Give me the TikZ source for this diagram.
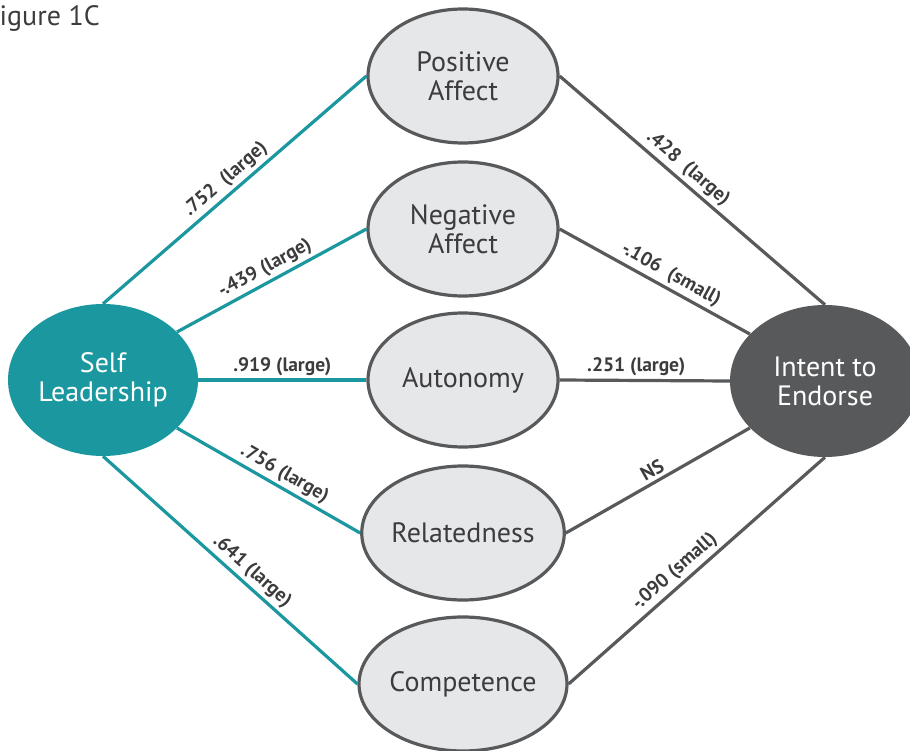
\documentclass[tikz,border=0pt]{standalone}
\usepackage{fontspec}
\setmainfont{PT Sans}
\usetikzlibrary{shapes}
\definecolor{tealfill}{HTML}{1B97A0}
\definecolor{darkfill}{HTML}{58595B}
\definecolor{lightfill}{HTML}{E6E7E8}
\definecolor{inkgray}{HTML}{3C3C3E}
\begin{document}
\begin{tikzpicture}[x=1pt,y=-1pt,
                factor/.style={ellipse,draw=darkfill,line width=3.2pt,fill=lightfill,text=inkgray,
                  minimum width=190pt,minimum height=134pt,inner sep=0pt,align=center,
                  font=\fontsize{28}{29}\selectfont},
                outer/.style={ellipse,minimum width=190pt,minimum height=152pt,inner sep=0pt,
                  align=center,text=white,font=\fontsize{28}{29}\selectfont},
                tealline/.style={draw=tealfill,line width=3.2pt},
                grayline/.style={draw=darkfill,line width=3.2pt},
                coef/.style={font=\fontsize{19.5}{22}\selectfont\bfseries,text=inkgray,inner sep=3pt,sloped,above}]
  \useasboundingbox (0,0) rectangle (910,751);
  \node[anchor=base west,inner sep=0pt,text=inkgray,font=\fontsize{28}{30}\selectfont] (fig) at (-15,26) {Figure 1C};
  \node[outer,fill=tealfill]  (sl) at (103,380) {Self\\Leadership};
  \node[outer,fill=darkfill]  (ie) at (825,381) {Intent to\\Endorse};
  \node[factor] (pa) at (463,76)  {Positive\\Affect};
  \node[factor] (na) at (463,229) {Negative\\Affect};
  \node[factor] (au) at (463,380) {Autonomy};
  \node[factor] (re) at (463,533) {Relatedness};
  \node[factor] (co) at (463,684) {Competence};
  \draw[tealline] (sl.north) -- node[coef,pos=.5] {.752~~(large)} (pa.west);
  \draw[tealline] (sl.33) -- node[coef,pos=.5] {-.439 (large)} (na.west);
  \draw[tealline] (sl.east) -- node[coef,pos=.5] {.919 (large)} (au.west);
  \draw[tealline] (sl.-33) -- node[coef,pos=.55] {.756 (large)} (re.west);
  \draw[tealline] (sl.south) -- node[coef,pos=.55] {.641 (large)} (co.west);
  \draw[grayline] (pa.east) -- node[coef,pos=.45] {.428~~(large)} (ie.north);
  \draw[grayline] (na.east) -- node[coef,pos=.55] {-.106~~(small)} (ie.148);
  \draw[grayline] (au.east) -- node[coef,pos=.45] {.251 (large)} (ie.west);
  \draw[grayline] (re.east) -- node[coef,pos=.5] {NS} (ie.212);
  \draw[grayline] (co.east) -- node[coef,pos=.45] {-.090 (small)} (ie.south);
\end{tikzpicture}
\end{document}
